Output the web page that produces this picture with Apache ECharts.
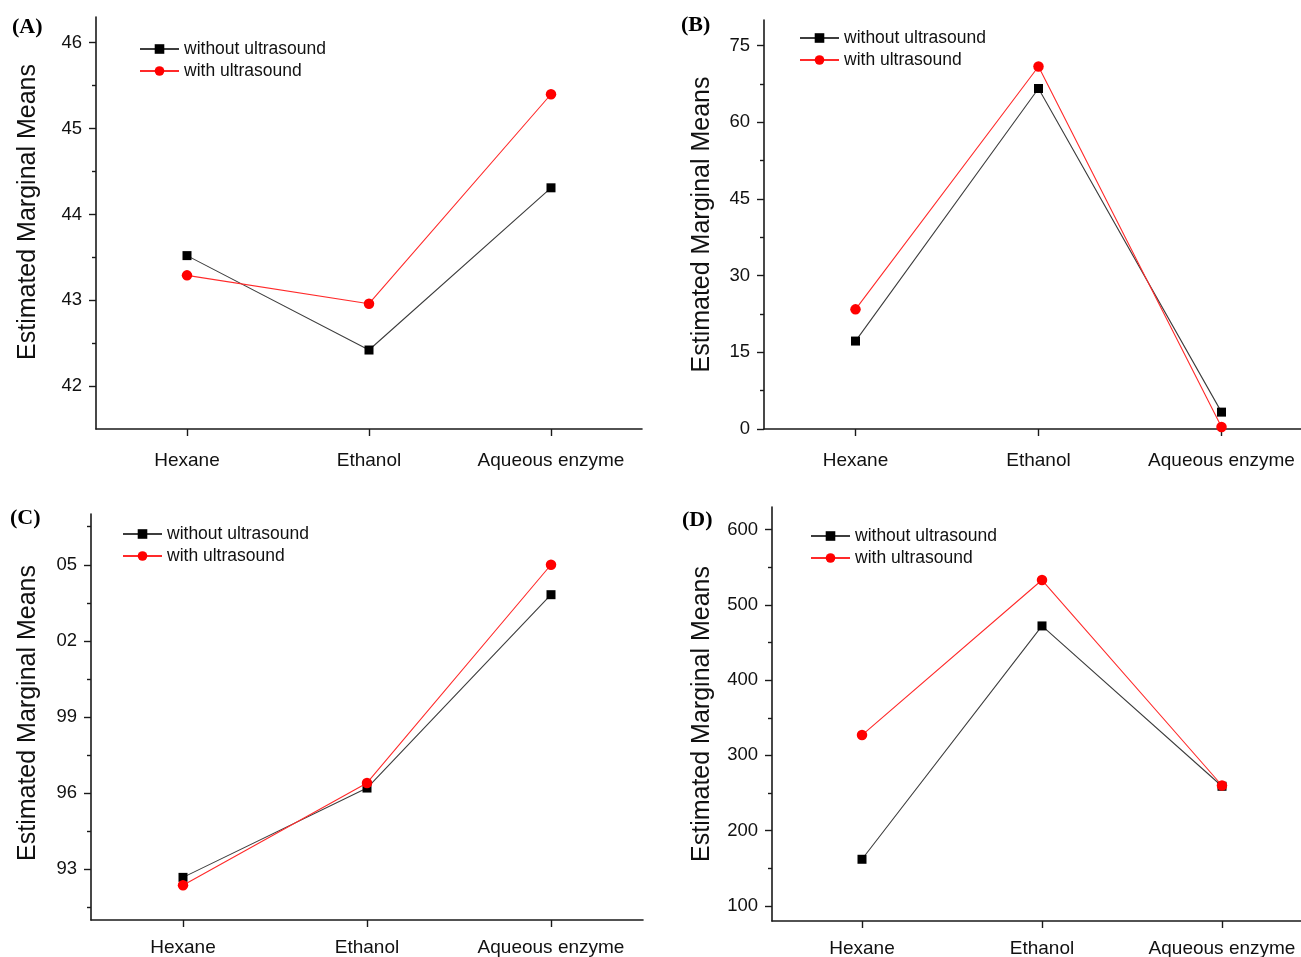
<!DOCTYPE html>
<html><head><meta charset="utf-8">
<script src="https://cdn.jsdelivr.net/npm/echarts@6/dist/echarts.min.js"></script>
<style>html,body{margin:0;padding:0;background:#fff}#c{width:1301px;height:957px}</style>
</head><body><div id="c"></div>
<script>
// ---- data ----
const categories = ['Hexane', 'Ethanol', 'Aqueous enzyme'];
const seriesNames = ['without ultrasound', 'with ultrasound'];
const panelLabels = ['(A)', '(B)', '(C)', '(D)'];
const yTitle = 'Estimated Marginal Means';

const withoutA = [43.52, 42.42, 44.31];
const withA    = [43.29, 42.96, 45.40];
const withoutB = [17.2, 66.6, 3.3];
const withB    = [23.4, 70.9, 0.4];
const withoutC = [92.68, 96.2, 103.82];
const withC    = [92.37, 96.4, 105.0];
const withoutD = [162, 472, 259];
const withD    = [327, 533, 260];

const tickValuesA = [42, 43, 44, 45, 46];
const tickLabelsA = ['42', '43', '44', '45', '46'];
const minorTicksA = [42.5, 43.5, 44.5, 45.5];
const tickValuesB = [0, 15, 30, 45, 60, 75];
const tickLabelsB = ['0', '15', '30', '45', '60', '75'];
const minorTicksB = [7.5, 22.5, 37.5, 52.5, 67.5];
const tickValuesC = [93, 96, 99, 102, 105];
const tickLabelsC = ['93', '96', '99', '02', '05'];
const minorTicksC = [91.5, 94.5, 97.5, 100.5, 103.5, 106.5];
const tickValuesD = [100, 200, 300, 400, 500, 600];
const tickLabelsD = ['100', '200', '300', '400', '500', '600'];
const minorTicksD = [150, 250, 350, 450, 550];

const rangeA = [41.5, 46.3];
const rangeB = [0, 80];
const rangeC = [91, 107];
const rangeD = [80, 630];

// ---- layout ----
const panels = [
  {without: withoutA, with: withA, ticks: tickValuesA, labels: tickLabelsA, minor: minorTicksA, range: rangeA,
   grid: {left: 96, top: 17, width: 546, height: 412}, nameGap: 55, namePad: [0, 0, 0, 22], xMargin: 22,
   legend: {left: 139, top: 38}, title: {left: 12, top: 16}},
  {without: withoutB, with: withB, ticks: tickValuesB, labels: tickLabelsB, minor: minorTicksB, range: rangeB,
   grid: {left: 764, top: 20, width: 549, height: 409}, nameGap: 49, namePad: 0, xMargin: 22,
   legend: {left: 799, top: 27}, title: {left: 681, top: 14}},
  {without: withoutC, with: withC, ticks: tickValuesC, labels: tickLabelsC, minor: minorTicksC, range: rangeC,
   grid: {left: 91, top: 514, width: 552, height: 406}, nameGap: 50, namePad: [0, 0, 0, 8], xMargin: 18,
   legend: {left: 122, top: 523}, title: {left: 10, top: 507}},
  {without: withoutD, with: withD, ticks: tickValuesD, labels: tickLabelsD, minor: minorTicksD, range: rangeD,
   grid: {left: 772, top: 507, width: 540, height: 414}, nameGap: 57, namePad: 0, xMargin: 18,
   legend: {left: 810, top: 525}, title: {left: 682, top: 509}}
];

const FONT = 'Liberation Sans, Arial, sans-serif';
const AXIS_COLOR = '#1a1a1a';
const TEXT_COLOR = '#111';

const option = {
  backgroundColor: '#fff',
  animation: false,
  title: [], grid: [], xAxis: [], yAxis: [], legend: [], series: []
};

panels.forEach(function (p, i) {
  option.title.push({
    text: panelLabels[i], left: p.title.left, top: p.title.top, padding: 0,
    textStyle: {fontFamily: 'Liberation Serif, Times New Roman, serif', fontWeight: 'bold', fontSize: 22, color: '#000'}
  });
  option.grid.push(Object.assign({containLabel: false, outerBoundsMode: 'none'}, p.grid));
  option.xAxis.push({
    type: 'category', gridIndex: i, data: categories, boundaryGap: true,
    axisLine: {show: true, lineStyle: {color: AXIS_COLOR, width: 1.6}},
    axisTick: {show: true, alignWithLabel: true, length: 7, lineStyle: {color: AXIS_COLOR, width: 1.4}},
    axisLabel: {interval: 0, margin: p.xMargin, fontSize: 19, color: TEXT_COLOR, fontFamily: FONT, hideOverlap: false},
    splitLine: {show: false}
  });
  const labels = p.labels, ticks = p.ticks;
  option.yAxis.push({
    type: 'value', gridIndex: i, min: p.range[0], max: p.range[1], position: 'left',
    name: yTitle, nameLocation: 'middle', nameGap: p.nameGap,
    nameTextStyle: {fontSize: 25, color: TEXT_COLOR, fontFamily: FONT, padding: p.namePad},
    axisLine: {show: true, lineStyle: {color: AXIS_COLOR, width: 1.6}},
    axisTick: {show: true, length: 7, customValues: ticks, lineStyle: {color: AXIS_COLOR, width: 1.4}},
    axisLabel: {margin: 14, fontSize: 18.5, color: TEXT_COLOR, fontFamily: FONT, customValues: ticks,
      formatter: function (v) { const k = ticks.indexOf(v); return k >= 0 ? labels[k] : ''; }},
    splitLine: {show: false}
  });
  option.yAxis.push({
    type: 'value', gridIndex: i, min: p.range[0], max: p.range[1], position: 'left',
    axisLine: {show: false},
    axisTick: {show: true, length: 4, customValues: p.minor, lineStyle: {color: AXIS_COLOR, width: 1.4}},
    axisLabel: {show: false},
    splitLine: {show: false}
  });
  option.legend.push({
    orient: 'vertical', left: p.legend.left, top: p.legend.top, padding: 0, itemGap: 0,
    itemWidth: 39, itemHeight: 12,
    textStyle: {fontSize: 17.5, lineHeight: 22, color: TEXT_COLOR, fontFamily: FONT},
    data: seriesNames, selectedMode: false
  });
  option.series.push({
    name: seriesNames[0], type: 'line', xAxisIndex: i, yAxisIndex: 2 * i, data: p.without,
    symbol: 'rect', symbolSize: 9, showSymbol: true,
    lineStyle: {color: '#3d3d3d', width: 1.1}, itemStyle: {color: '#000'}, z: 3
  });
  option.series.push({
    name: seriesNames[1], type: 'line', xAxisIndex: i, yAxisIndex: 2 * i, data: p.with,
    symbol: 'circle', symbolSize: 10.5, showSymbol: true,
    lineStyle: {color: '#ff2a2a', width: 1.1}, itemStyle: {color: '#ff0000'}, z: 4
  });
});

const chart = echarts.init(document.getElementById('c'), null, {renderer: 'canvas'});
chart.setOption(option);
</script>
</body></html>
